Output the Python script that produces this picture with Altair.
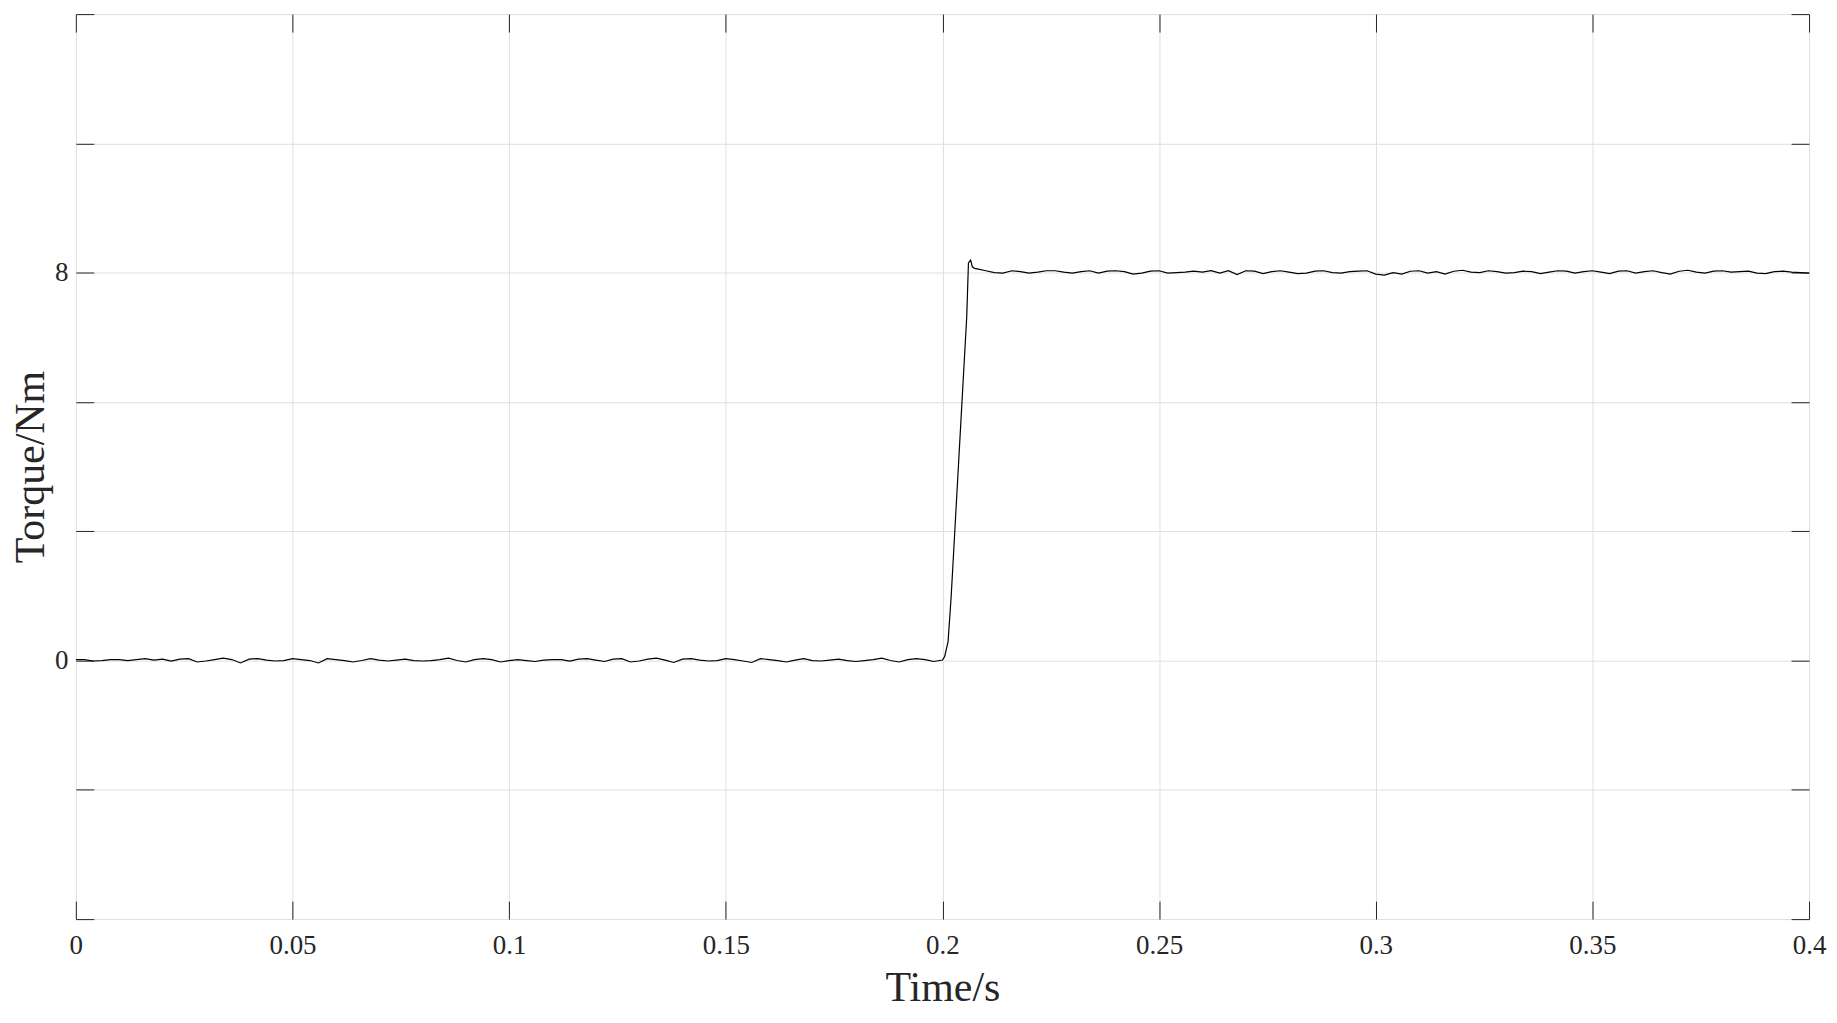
import altair as alt
import numpy as np
import pandas as pd

# ---- data ----
# torque before the load step, sampled every 0.002 s from t = 0.000 to 0.200
torque_low = [
    0.02, 0.02, -0.01, 0.00, 0.02, 0.02, 0.00, 0.02, 0.04, 0.01,
    0.03, -0.01, 0.03, 0.04, -0.03, -0.01, 0.02, 0.05, 0.02, -0.05,
    0.03, 0.04, 0.01, -0.01, 0.00, 0.04, 0.02, 0.00, -0.05, 0.04,
    0.02, 0.00, -0.03, 0.00, 0.04, 0.01, -0.01, 0.01, 0.03, 0.00,
    -0.01, 0.00, 0.02, 0.05, 0.00, -0.03, 0.02, 0.04, 0.02, -0.03,
    0.00, 0.02,
    0.00, -0.02, 0.01, 0.02, 0.02, -0.01, 0.03, 0.04, 0.01, -0.02,
    0.03, 0.04, -0.03, -0.01, 0.03, 0.05, 0.01, -0.04, 0.03, 0.04,
    0.01, -0.01, 0.00, 0.04, 0.02, -0.01, -0.04, 0.04, 0.02, 0.00,
    -0.03, 0.01, 0.04, 0.00, -0.01, 0.01, 0.03, 0.00, -0.02, 0.00,
    0.02, 0.05, 0.00, -0.03, 0.02, 0.04, 0.02, -0.02, 0.01,
]
# the step response
time_rise = [0.2005, 0.2013, 0.2020, 0.2043, 0.2056, 0.2060, 0.2065, 0.2069, 0.2074]
torque_rise = [0.08, 0.39, 1.30, 5.00, 7.08, 8.20, 8.26, 8.12, 8.09]
# torque after the step, sampled every 0.002 s from t = 0.208 to 0.400
torque_high = [
    8.08, 8.04, 8.00, 7.99, 8.04, 8.02, 7.99, 8.01, 8.04, 8.04,
    8.01, 7.99, 8.02, 8.04, 7.99, 8.03, 8.04, 8.02, 7.97, 7.99,
    8.03, 8.04, 7.99, 8.00, 8.01, 8.03, 8.01, 8.04, 7.99, 8.04,
    7.96, 8.04, 8.03, 7.98, 8.02, 8.04, 8.01, 7.98, 7.99, 8.03,
    8.04, 8.00, 7.99, 8.02, 8.03, 8.04, 7.97, 7.95,
    8.00, 7.97, 8.03, 8.04, 7.99, 8.02, 7.97, 8.03, 8.05, 8.01,
    8.00, 8.04, 8.02, 7.99, 8.00, 8.03, 8.02, 7.98, 8.01, 8.04,
    8.03, 7.99, 8.02, 8.04, 8.01, 7.98, 8.03, 8.04, 7.99, 8.02,
    8.04, 8.00, 7.97, 8.03, 8.05, 8.01, 7.99, 8.03, 8.04, 8.01,
    8.02, 8.03, 7.99, 7.98, 8.02, 8.03, 8.01, 8.00, 7.99,
]

x_ticks = [0, 0.05, 0.1, 0.15, 0.2, 0.25, 0.3, 0.35, 0.4]
y_ticks = [-16 / 3, -8 / 3, 0, 8 / 3, 16 / 3, 8, 32 / 3, 40 / 3]
x_domain = [0, 0.4]
y_domain = [-16 / 3, 40 / 3]

time_low = list(np.round(np.arange(len(torque_low)) * 0.002, 4))
time_high = list(np.round(0.208 + np.arange(len(torque_high)) * 0.002, 4))

df = pd.DataFrame({
    "t": time_low + time_rise + time_high,
    "v": torque_low + torque_rise + torque_high,
})

FONT = "Liberation Serif"
DARK = "#262626"

xs = alt.Scale(domain=x_domain, nice=False, zero=False)
ys = alt.Scale(domain=y_domain, nice=False, zero=False)

base = alt.Chart(df)


def ghost(xaxis, yaxis):
    return base.mark_line(strokeOpacity=0).encode(
        x=alt.X("t:Q", scale=xs, axis=xaxis),
        y=alt.Y("v:Q", scale=ys, axis=yaxis),
        order="t:Q",
    )


# grid layer (interior lines only so the frame stays dark)
grid = ghost(
    alt.Axis(orient="bottom", values=x_ticks[1:-1], grid=True, gridColor="#dfdfdf",
             gridWidth=1, domain=False, ticks=False, labels=False, title=None),
    alt.Axis(orient="left", values=y_ticks[1:-1], grid=True, gridColor="#dfdfdf",
             gridWidth=1, domain=False, ticks=False, labels=False, title=None),
)

tick_kw = dict(grid=False, domain=False, labels=False, ticks=True, tickSize=18,
               tickColor=DARK, tickWidth=1, offset=-18, title=None)
ticks_bl = ghost(
    alt.Axis(orient="bottom", values=x_ticks, **tick_kw),
    alt.Axis(orient="left", values=y_ticks, **tick_kw),
)
ticks_tr = ghost(
    alt.Axis(orient="top", values=x_ticks, **tick_kw),
    alt.Axis(orient="right", values=y_ticks, **tick_kw),
)

line = base.mark_line(color="black", strokeWidth=1.2).encode(
    x=alt.X("t:Q", scale=xs,
            axis=alt.Axis(orient="bottom", values=x_ticks, format="~g", grid=False,
                          domain=False, ticks=False, tickSize=0, labelPadding=13,
                          labelFlush=False, labelOverlap=False,
                          labelFont=FONT, labelFontSize=27, labelColor=DARK,
                          title="Time/s", titleFont=FONT, titleFontSize=42,
                          titleFontWeight="normal", titleColor=DARK, titlePadding=10)),
    y=alt.Y("v:Q", scale=ys,
            axis=alt.Axis(orient="left", values=y_ticks,
                          labelExpr="abs(datum.value) < 1e-6 ? '0' : (abs(datum.value - 8) < 1e-6 ? '8' : '')",
                          grid=False, domain=False, ticks=False, tickSize=0, labelPadding=8,
                          labelFlush=False, labelOverlap=False,
                          labelFont=FONT, labelFontSize=27, labelColor=DARK,
                          title="Torque/Nm", titleFont=FONT, titleFontSize=42,
                          titleFontWeight="normal", titleColor=DARK, titlePadding=2)),
    order="t:Q",
)

chart = (
    alt.layer(grid, ticks_bl, ticks_tr, line)
    .resolve_axis(x="independent", y="independent")
    .properties(
        width=1737,
        height=907,
        autosize=alt.AutoSizeParams(type="none"),
        padding={"left": 68, "top": 5, "right": 20, "bottom": 100},
    )
    .configure_view(stroke=DARK, strokeWidth=1)
    .configure(background="white")
)

chart.save("out.html", embed_options={"renderer": "svg", "actions": False})
